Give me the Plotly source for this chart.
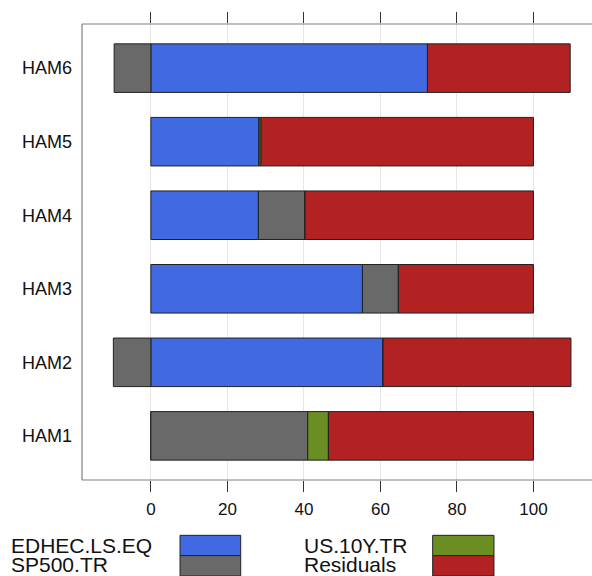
import plotly.graph_objects as go

# Return attribution of each fund (percent), stacked by factor
funds = ["HAM1", "HAM2", "HAM3", "HAM4", "HAM5", "HAM6"]
edhec_ls_eq = [0.0, 60.7, 55.3, 28.1, 28.3, 72.3]
sp500_tr = [41.0, -9.8, 9.4, 12.2, 0.0, -9.6]
us_10y_tr = [5.4, 0.0, 0.0, 0.0, 0.5, 0.0]
residuals = [53.6, 49.1, 35.3, 59.7, 71.2, 37.3]

series_names = ["EDHEC.LS.EQ", "SP500.TR", "US.10Y.TR", "Residuals"]
series_values = [edhec_ls_eq, sp500_tr, us_10y_tr, residuals]
series_colors = ["#4169E1", "#696969", "#6B8E23", "#B22222"]

x_ticks = [0, 20, 40, 60, 80, 100]

FONT = "Liberation Sans, Arial, sans-serif"

fig = go.Figure()
for name, vals, col in zip(series_names, series_values, series_colors):
    fig.add_trace(go.Bar(
        x=vals, y=funds, orientation="h", name=name,
        marker=dict(color=col, line=dict(color="#222222", width=1)),
        width=0.66, showlegend=False,
    ))

# invisible trace so the top tick axis is drawn
fig.add_trace(go.Scatter(
    x=residuals, y=funds, xaxis="x2", mode="markers",
    marker=dict(opacity=0), hoverinfo="skip", showlegend=False,
))

# plot frame (left, top, bottom)
frame_line = dict(color="#808080", width=1.2)
fig.add_shape(type="line", xref="paper", yref="paper", x0=0, x1=0, y0=0, y1=1, line=frame_line)
fig.add_shape(type="line", xref="paper", yref="paper", x0=0, x1=1, y0=1, y1=1, line=frame_line)
fig.add_shape(type="line", xref="paper", yref="paper", x0=0, x1=1, y0=0, y1=0, line=frame_line)

# legend: label followed by a colour box, two columns
legend_cols = [(-0.1425, 0.1922, 0.3112), (0.432, 0.6876, 0.8078)]
box_edges = [-0.1213, -0.1658, -0.2105]
text_centers = [-0.1447, -0.1857]
for i, (name, col) in enumerate(zip(series_names, series_colors)):
    c, r = divmod(i, 2)
    tx, bx0, bx1 = legend_cols[c]
    fig.add_shape(type="rect", xref="paper", yref="paper",
                  x0=bx0, x1=bx1, y0=box_edges[r + 1], y1=box_edges[r],
                  fillcolor=col, line=dict(color="#222222", width=1))
    fig.add_annotation(text=name, xref="paper", yref="paper",
                       x=tx, y=text_centers[r], xanchor="left", yanchor="middle",
                       showarrow=False, font=dict(family=FONT, size=21, color="#111111"))

fig.update_layout(
    barmode="relative",
    width=592, height=576,
    margin=dict(l=82, r=0, t=24, b=96),
    paper_bgcolor="white", plot_bgcolor="white",
    font=dict(family=FONT, color="#111111"),
    xaxis=dict(
        range=[-18.0, 115.3], tickvals=x_ticks, ticktext=[str(v) for v in x_ticks],
        showgrid=True, gridcolor="#e6e6e6", gridwidth=1, zeroline=False,
        ticks="outside", ticklen=11, tickcolor="#333333", tickwidth=1,
        ticklabelstandoff=3,
        tickfont=dict(size=17, family=FONT, color="#111111"),
        showline=False,
    ),
    xaxis2=dict(
        overlaying="x", matches="x", side="top", anchor="y",
        tickvals=x_ticks, showticklabels=False, showgrid=False, zeroline=False,
        ticks="outside", ticklen=11, tickcolor="#333333", tickwidth=1, showline=False,
    ),
    yaxis=dict(
        range=[-0.6, 5.6], categoryorder="array", categoryarray=funds,
        showgrid=False, zeroline=False, showline=False, ticks="",
        ticklabelstandoff=9,
        tickfont=dict(size=18, family=FONT, color="#111111"),
    ),
)

fig.write_html("out.html")
